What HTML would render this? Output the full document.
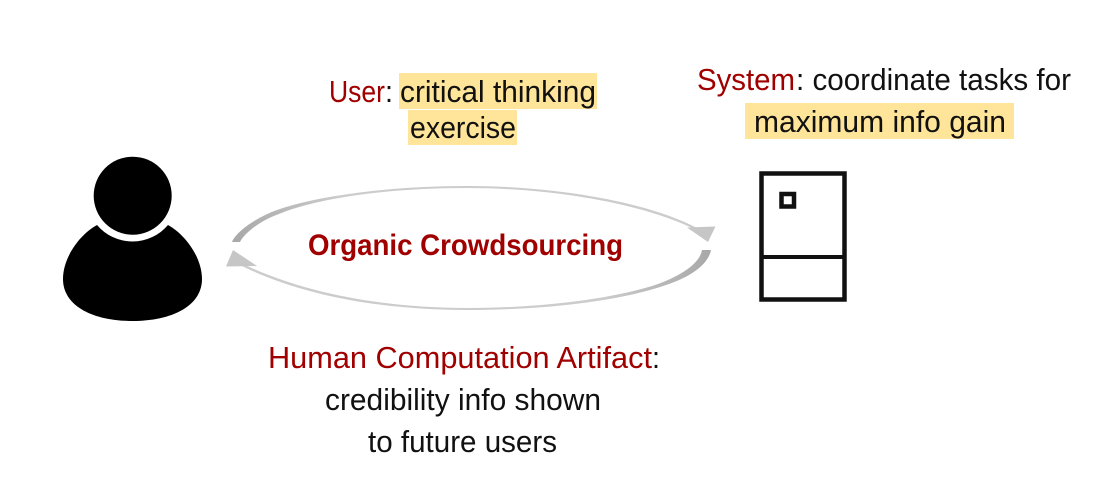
<!DOCTYPE html>
<html>
<head>
<meta charset="utf-8">
<style>
html,body{margin:0;padding:0;background:#fff;width:1109px;height:497px;overflow:hidden}
svg{display:block}
text{font-family:"Liberation Sans",sans-serif;font-size:31px;fill:#111}
.r{fill:#a00000}
.b{font-weight:bold;font-size:30px;fill:#a00000}
</style>
</head>
<body>
<svg width="1109" height="497" viewBox="0 0 1109 497" xmlns="http://www.w3.org/2000/svg">
<defs>
<linearGradient id="gl" gradientUnits="userSpaceOnUse" x1="232" y1="0" x2="340" y2="0"><stop offset="0" stop-color="#a8a8a8"/><stop offset="1" stop-color="#cccccc"/></linearGradient>
<linearGradient id="gr" gradientUnits="userSpaceOnUse" x1="711" y1="0" x2="600" y2="0"><stop offset="0" stop-color="#a8a8a8"/><stop offset="1" stop-color="#cccccc"/></linearGradient>
</defs>
<!-- highlights -->
<rect x="399" y="73" width="198" height="36" fill="#ffe599"/>
<rect x="408" y="110" width="109" height="35" fill="#ffe599"/>
<rect x="745" y="103" width="269" height="36" fill="#ffe599"/>

<!-- top text -->
<text class="r" x="329" y="102" textLength="56" lengthAdjust="spacingAndGlyphs">User</text>
<text x="385" y="102" textLength="8" lengthAdjust="spacingAndGlyphs">:</text>
<text x="400" y="102" textLength="196" lengthAdjust="spacingAndGlyphs">critical thinking</text>
<text x="410" y="138" textLength="106" lengthAdjust="spacingAndGlyphs">exercise</text>

<text class="r" x="697" y="90" textLength="98" lengthAdjust="spacingAndGlyphs">System</text>
<text x="796" y="90" textLength="275" lengthAdjust="spacingAndGlyphs">: coordinate tasks for</text>
<text x="754" y="132" textLength="252" lengthAdjust="spacingAndGlyphs">maximum info gain</text>

<!-- person -->
<circle cx="132.7" cy="195.7" r="39" fill="#000"/>
<path d="M97 225 A46.5 46.5 0 0 0 168 225 C186 235 202 258 202 279 C202 306 172 321 132.5 321 C93 321 63 306 63 279 C63 258 79 235 97 225 Z" fill="#000"/>

<!-- computer -->
<rect x="761.5" y="173.5" width="83" height="126" fill="none" stroke="#111" stroke-width="4.5"/>
<line x1="760" y1="257" x2="846" y2="257" stroke="#111" stroke-width="4"/>
<rect x="781.5" y="194" width="12.5" height="12.5" fill="none" stroke="#111" stroke-width="4.5"/>

<!-- cycle arrows -->
<path d="M232 242 C236 232 255 218 277 210 C310 198 380 186 467 186 C560 186 650 203 697 228 L696 230 C650 206 560 188 467 188 C380 188 312 200 279 214 C262 220 245 232 240 242 Z" fill="url(#gl)"/>
<polygon points="687,227.5 715.5,226.5 708,242" fill="#c6c6c6"/>
<path d="M711 250 C708 265 690 278 660 287 C620 300 550 310 467 310 C380 310 300 295 240 265 L241 263 C300 292 380 308 467 308 C550 308 620 297 658 284 C685 274 700 262 702 250 Z" fill="url(#gr)"/>
<polygon points="233,250 257,266 226,266.5" fill="#c6c6c6"/>

<text class="b" x="308" y="255" textLength="315" lengthAdjust="spacingAndGlyphs">Organic Crowdsourcing</text>

<!-- bottom text -->
<text class="r" x="268" y="368" textLength="384" lengthAdjust="spacingAndGlyphs">Human Computation Artifact</text>
<text x="652" y="368" textLength="8" lengthAdjust="spacingAndGlyphs">:</text>
<text x="325" y="410" textLength="276" lengthAdjust="spacingAndGlyphs">credibility info shown</text>
<text x="368" y="452" textLength="189" lengthAdjust="spacingAndGlyphs">to future users</text>
</svg>
</body>
</html>
